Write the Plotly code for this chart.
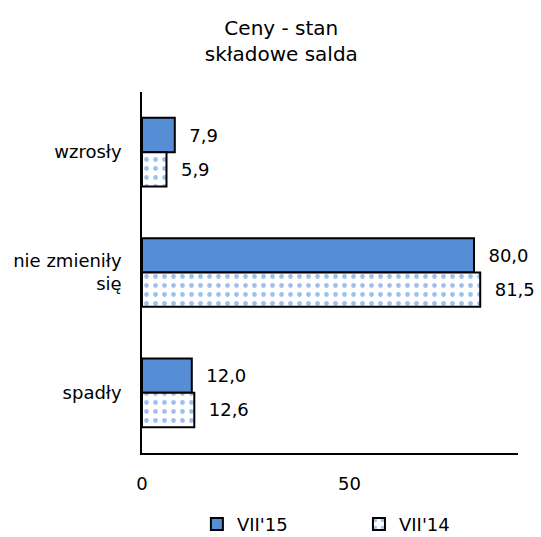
import plotly.graph_objects as go

categories = ["wzrosły", "nie zmieniły<br>się", "spadły"]
series_names = ["VII'15", "VII'14"]
vii15 = [7.9, 80.0, 12.0]
vii14 = [5.9, 81.5, 12.6]

blue = "#558ED5"
dot_blue = "#3F7FDA"
font = "DejaVu Sans"
pad = "\u00a0\u00a0"

fig = go.Figure()
fig.add_trace(go.Bar(
    y=categories, x=vii15, name=series_names[0], orientation="h",
    marker=dict(color=blue, line=dict(color="black", width=2)),
    texttemplate=pad + "%{x:.1f}", textposition="outside",
    textfont=dict(size=18, color="black", family=font), cliponaxis=False,
    legend="legend",
))
fig.add_trace(go.Bar(
    y=categories, x=vii14, name=series_names[1], orientation="h",
    marker=dict(color="white", line=dict(color="black", width=2),
                pattern=dict(shape=".", fgcolor=dot_blue, bgcolor="white", size=9, solidity=0.22)),
    texttemplate=pad + "%{x:.1f}", textposition="outside",
    textfont=dict(size=18, color="black", family=font), cliponaxis=False,
    legend="legend2",
))

legend_common = dict(orientation="h", xanchor="left", y=-0.146, yanchor="top",
                     font=dict(size=18, family=font), itemwidth=30,
                     bgcolor="rgba(0,0,0,0)")

fig.update_layout(
    width=541, height=537,
    paper_bgcolor="white", plot_bgcolor="white",
    separators=", ",
    font=dict(family=font, size=18, color="black"),
    title=dict(text="Ceny - stan<br>składowe salda", x=0.52, xanchor="center",
               y=0.935, yanchor="top", font=dict(size=20, family=font, color="black")),
    margin=dict(l=142, r=23, t=92, b=84, autoexpand=False),
    barmode="group", bargap=0.43, bargroupgap=0,
    showlegend=True,
    legend=dict(x=0.146, **legend_common),
    legend2=dict(x=0.577, **legend_common),
    xaxis=dict(range=[0, 90.6], dtick=50, tick0=0, showgrid=False, zeroline=False,
               showline=True, linecolor="black", linewidth=1.5, ticks="",
               ticklabelstandoff=14, tickfont=dict(size=18, family=font)),
    yaxis=dict(autorange="reversed", showgrid=False, showline=True, linecolor="black",
               linewidth=1.5, ticks="", ticklabelstandoff=15,
               tickfont=dict(size=18, family=font)),
)

fig.write_html("out.html", config={"displayModeBar": False},
               post_script="document.body.style.margin='0';document.body.style.overflow='hidden';")
